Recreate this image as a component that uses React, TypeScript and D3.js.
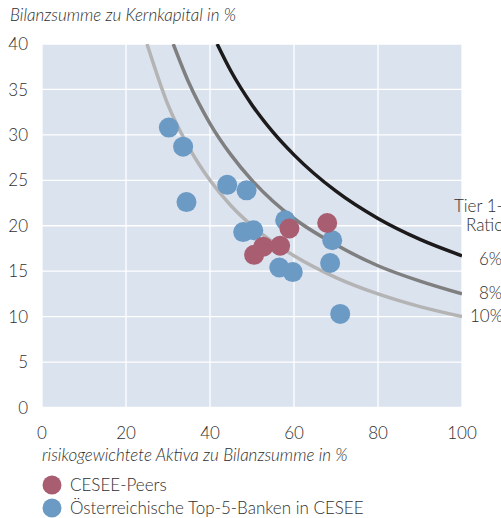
import React from "react";
import * as d3 from "d3";

// scatter points: [risk-weighted assets / total assets %, total assets / tier 1 capital]
const peersX = [50.5, 52.7, 56.7, 58.9, 67.9];
const peersY = [16.8, 17.7, 17.8, 19.7, 20.3];

const topBanksX = [30.2, 33.6, 34.4, 44.1, 48.7, 47.9, 50.3, 57.9, 56.5, 59.7, 69.1, 68.6, 71.0];
const topBanksY = [30.8, 28.7, 22.6, 24.5, 23.9, 19.3, 19.5, 20.6, 15.4, 14.9, 18.4, 15.9, 10.3];

// iso-lines for tier 1 ratio
const ratioLabels = ["6%", "8%", "10%"];
const ratioColors = ["#1c1a1b", "#7f7f80", "#b4b4b5"];
const ratioX = [
  [41.7, 45, 50, 55, 60, 70, 80, 90, 100],
  [31.25, 35, 40, 45, 50, 55, 60, 70, 80, 90, 100],
  [25, 30, 35, 40, 45, 50, 55, 60, 70, 80, 90, 100],
];
const ratioY = [
  [40, 37, 33.3, 30.3, 27.8, 23.8, 20.8, 18.5, 16.7],
  [40, 35.7, 31.25, 27.8, 25, 22.7, 20.8, 17.9, 15.6, 13.9, 12.5],
  [40, 33.3, 28.6, 25, 22.2, 20, 18.2, 16.7, 14.3, 12.5, 11.1, 10],
];

const xTicks = [0, 20, 40, 60, 80, 100];
const yTicks = [0, 5, 10, 15, 20, 25, 30, 35, 40];

const W = 501;
const H = 518;
const left = 42, right = 462, top = 44, bottom = 407.5;
const font = "Lato, 'Open Sans', sans-serif";
const textColor = "#2f2f2f";
const red = "#a85e70";
const blue = "#6b9ac5";

export default function App() {
  const x = d3.scaleLinear().domain([0, 100]).range([left, right]);
  const y = d3.scaleLinear().domain([0, 40]).range([bottom, top]);
  const line = d3
    .line<[number, number]>()
    .x((d) => x(d[0]))
    .y((d) => y(d[1]))
    .curve(d3.curveMonotoneX);

  return (
    <svg
      width={W}
      height={H}
      style={{ position: "absolute", left: 0, top: 0, display: "block" }}
      fontFamily={font}
      fontWeight={300}
    >
      <defs>
        <clipPath id="plot">
          <rect x={left} y={top} width={right - left} height={bottom - top} />
        </clipPath>
      </defs>
      <rect x={left} y={top} width={right - left} height={bottom - top} fill="#dbe3ef" />
      {yTicks.map((t) => (
        <line key={"gy" + t} x1={left} x2={right} y1={y(t)} y2={y(t)} stroke="#fff" strokeWidth={1.3} />
      ))}
      {xTicks.map((t) => (
        <line key={"gx" + t} x1={x(t)} x2={x(t)} y1={top} y2={bottom} stroke="#fff" strokeWidth={1.3} />
      ))}
      {yTicks.map((t) => (
        <text key={"ty" + t} x={28} y={y(t)} dy="0.36em" textAnchor="end" fontSize={17} fill={textColor}>
          {t}
        </text>
      ))}
      {xTicks.map((t) => (
        <text key={"tx" + t} x={x(t)} y={439} textAnchor="middle" fontSize={17} fill={textColor}>
          {t}
        </text>
      ))}
      <g clipPath="url(#plot)">
        {ratioLabels.map((r, i) => (
          <path
            key={"c" + r}
            d={line(ratioX[i].map((v, j) => [v, ratioY[i][j]] as [number, number])) || ""}
            fill="none"
            stroke={ratioColors[i]}
            strokeWidth={3.5}
          />
        ))}
      </g>
      {topBanksX.map((v, i) => (
        <circle key={"b" + i} cx={x(v)} cy={y(topBanksY[i])} r={10} fill={blue} />
      ))}
      {peersX.map((v, i) => (
        <circle key={"p" + i} cx={x(v)} cy={y(peersY[i])} r={10} fill={red} />
      ))}
      <g fontSize={17} fill={textColor}>
        <text x={454} y={212}>Tier 1-</text>
        <text x={466} y={231}>Ratio</text>
        {ratioLabels.map((r, i) => (
          <text key={"l" + r} x={[479, 479, 470][i]} y={[265, 299, 322][i]}>
            {r}
          </text>
        ))}
      </g>
      <text x={10} y={21} fontSize={17} fontStyle="italic" fill={textColor}>
        Bilanzsumme zu Kernkapital in %
      </text>
      <text x={42} y={461} fontSize={17} fontStyle="italic" fill={textColor}>
        risikogewichtete Aktiva zu Bilanzsumme in %
      </text>
      <circle cx={52} cy={485} r={9.5} fill={red} />
      <text x={70} y={491} fontSize={17} fill={textColor}>
        CESEE-Peers
      </text>
      <circle cx={52} cy={508} r={9.5} fill={blue} />
      <text x={70} y={514} fontSize={17} fill={textColor}>
        Österreichische Top-5-Banken in CESEE
      </text>
    </svg>
  );
}
